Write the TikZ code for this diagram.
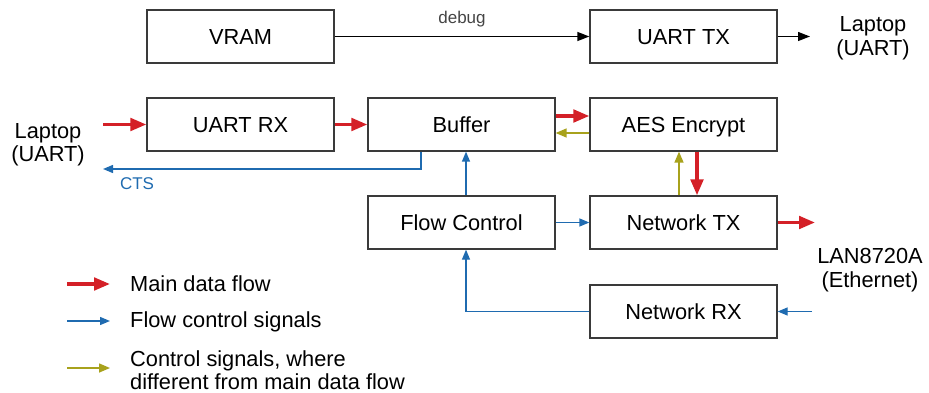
\documentclass[tikz,border=0pt]{standalone}
\usepackage{fontspec}
\setmainfont{Liberation Sans}
\usetikzlibrary{arrows.meta}
\definecolor{dred}{HTML}{D42027}
\definecolor{dblue}{HTML}{1F6BB0}
\definecolor{dolive}{HTML}{A8A21C}
\definecolor{boxline}{HTML}{3A3A3A}
\definecolor{lbl}{HTML}{444444}
\begin{document}
\begin{tikzpicture}[x=1pt,y=-1pt,
  blk/.style={draw=boxline, line width=1.3pt, minimum width=187pt, minimum height=53pt, inner sep=0pt, text height=15.6pt, text depth=0pt, font=\fontsize{21.8}{24}\selectfont, text=black},
  txt/.style={font=\fontsize{21.8}{23.5}\selectfont, align=center, inner sep=0pt, text=black},
  small/.style={font=\fontsize{17}{19}\selectfont, inner sep=0pt},
  redarr/.style={draw=dred, line width=3.5pt, -{Triangle[length=16pt,width=12.5pt]}},
  bluarr/.style={draw=dblue, line width=1.3pt, -{Triangle[length=10pt,width=8pt]}},
  oliarr/.style={draw=dolive, line width=1.5pt, -{Triangle[length=11pt,width=9pt]}},
  blkarr/.style={draw=black, line width=1.3pt, -{Triangle[length=12pt,width=9pt]}}]
\useasboundingbox (0,0) rectangle (929,393);

% boxes
\node[blk] (vram) at (240.5,36.5) {VRAM};
\node[blk] (uarttx) at (683.5,36.5) {UART TX};
\node[blk] (uartrx) at (240.5,124.5) {UART RX};
\node[blk] (buffer) at (461.5,124.5) {Buffer};
\node[blk] (aes) at (683.5,124.5) {AES Encrypt};
\node[blk] (flow) at (461.5,222.5) {Flow Control};
\node[blk] (nettx) at (683.5,222.5) {Network TX};
\node[blk] (netrx) at (683.5,311.5) {Network RX};

% outer labels
\node[txt] (laptopR) at (873,38.5) {Laptop\\(UART)};
\node[txt] (laptopL) at (48,145) {Laptop\\(UART)};
\node[txt] (lan) at (870,270) {LAN8720A\\(Ethernet)};

% free ends
\coordinate (txout) at (810,36.5);
\coordinate (rxin) at (103,124.5);
\coordinate (ctsend) at (103,169);
\coordinate (ethout) at (815,222.5);
\coordinate (ethin) at (812,311.5);

% connectors
\draw[blkarr] (vram.east) -- node[small, text=lbl, above=9pt] (dbg) {debug} (uarttx.west);
\draw[blkarr] (uarttx.east) -- (txout);
\draw[redarr] (rxin) -- (uartrx.west);
\draw[redarr] (uartrx.east) -- (buffer.west);
\draw[redarr] ([yshift=8.5pt]buffer.east) -- ([yshift=8.5pt]aes.west);
\draw[oliarr] ([yshift=-8.5pt]aes.west) -- ([yshift=-8.5pt]buffer.east);
\draw[redarr] ([xshift=13.5pt]aes.south) -- ([xshift=13.5pt]nettx.north);
\draw[oliarr] ([xshift=-4.5pt]nettx.north) -- ([xshift=-4.5pt]aes.south);
\draw[redarr] (nettx.east) -- (ethout);
\draw[bluarr] (flow.east) -- (nettx.west);
\draw[bluarr] ([xshift=4.5pt]flow.north) -- ([xshift=4.5pt]buffer.south);
\draw[bluarr] ([xshift=-40.5pt]buffer.south) |- (ctsend);
\node[small, text=dblue] (cts) at (137,184) {CTS};
\draw[bluarr] (netrx.west) -| ([xshift=4.5pt]flow.south);
\draw[bluarr] (ethin) -- (netrx.east);

% legend
\coordinate (l1a) at (67,284); \coordinate (l1b) at (110,284);
\coordinate (l2a) at (67,321); \coordinate (l2b) at (110,321);
\coordinate (l3a) at (67,368); \coordinate (l3b) at (110,368);
\draw[redarr] (l1a) -- (l1b);
\draw[bluarr] (l2a) -- (l2b);
\draw[oliarr] (l3a) -- (l3b);
\node[txt, anchor=west] (lt1) at (130,284) {Main data flow};
\node[txt, anchor=west] (lt2) at (130,322) {Flow control signals};
\node[txt, anchor=west, align=left] (lt3) at (130,370) {Control signals, where\\different from main data flow};
\end{tikzpicture}
\end{document}
